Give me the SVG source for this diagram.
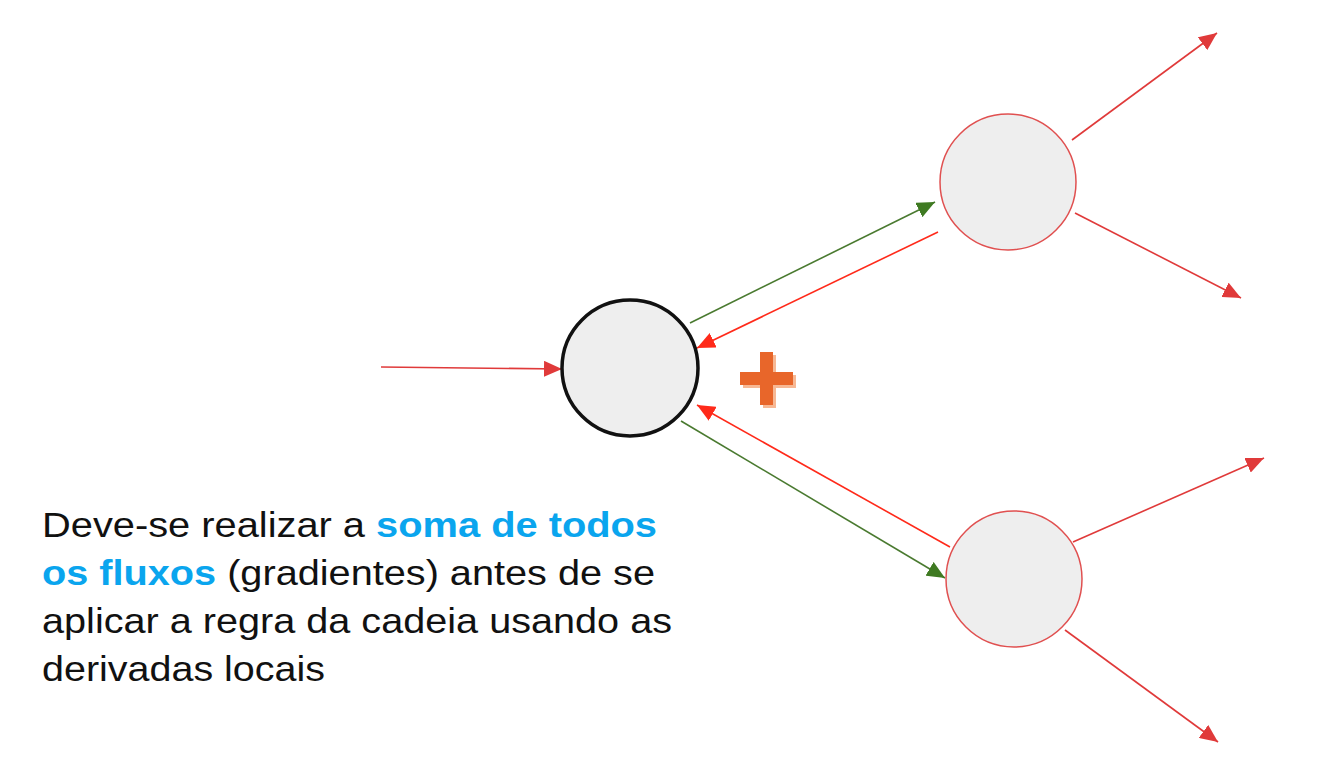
<svg xmlns="http://www.w3.org/2000/svg" width="1336" height="778" viewBox="0 0 1336 778">
<style>
.node{fill:#eeeeee;}
.main{stroke:#111;stroke-width:3.5;}
.sub{stroke:#e05050;stroke-width:1.5;}
.r{stroke:#e03a3a;stroke-width:1.6;fill:none;}
.rb{stroke:#ff2a1a;stroke-width:1.6;fill:none;}
.g{stroke:#4a7a30;stroke-width:1.6;fill:none;}
.t{font-family:"Liberation Sans",Arial,sans-serif;font-size:35px;fill:#111;}
.hl{fill:#0aa5ee;font-weight:bold;}
</style>
<defs>
<marker id="ar" markerUnits="userSpaceOnUse" markerWidth="20" markerHeight="16" refX="18" refY="8" orient="auto"><path d="M0,0 L18,8 L0,16 Z" fill="#e03a3a"/></marker>
<marker id="arb" markerUnits="userSpaceOnUse" markerWidth="20" markerHeight="16" refX="18" refY="8" orient="auto"><path d="M0,0 L18,8 L0,16 Z" fill="#ff2a1a"/></marker>
<marker id="ag" markerUnits="userSpaceOnUse" markerWidth="20" markerHeight="16" refX="18" refY="8" orient="auto"><path d="M0,0 L18,8 L0,16 Z" fill="#3f7a22"/></marker>
</defs>
<rect width="1336" height="778" fill="#ffffff"/>
<g id="connectors">
<line class="r" x1="381" y1="367" x2="562" y2="369" marker-end="url(#ar)"/>
<line class="g" x1="690" y1="323" x2="935" y2="202" marker-end="url(#ag)"/>
<line class="rb" x1="938" y1="232" x2="697" y2="348" marker-end="url(#arb)"/>
<line class="rb" x1="950" y1="547" x2="697" y2="405" marker-end="url(#arb)"/>
<line class="g" x1="681" y1="421" x2="945" y2="578" marker-end="url(#ag)"/>
<line class="r" x1="1072" y1="140" x2="1217" y2="33" marker-end="url(#ar)"/>
<line class="r" x1="1075" y1="213" x2="1241" y2="298" marker-end="url(#ar)"/>
<line class="r" x1="1073" y1="542" x2="1264" y2="458" marker-end="url(#ar)"/>
<line class="r" x1="1065" y1="630" x2="1218" y2="742" marker-end="url(#ar)"/>
</g>
<g id="node-center"><circle class="node main" cx="630" cy="368" r="68"/></g>
<g id="node-top"><circle class="node sub" cx="1008" cy="182" r="68"/></g>
<g id="node-bottom"><circle class="node sub" cx="1014" cy="579" r="68"/></g>
<g id="plus">
<path d="M763,355 h13 v20 h20 v13 h-20 v20 h-13 v-20 h-20 v-13 h20 Z" fill="#f7b894"/>
<path d="M760,352 h13 v20 h20 v13 h-20 v20 h-13 v-20 h-20 v-13 h20 Z" fill="#e8662a"/>
</g>
<g id="caption">
<text class="t" x="42" y="537" textLength="615" lengthAdjust="spacingAndGlyphs">Deve-se realizar a <tspan class="hl">soma de todos</tspan></text>
<text class="t" x="42" y="585" textLength="613" lengthAdjust="spacingAndGlyphs"><tspan class="hl">os fluxos</tspan> (gradientes) antes de se</text>
<text class="t" x="42" y="633" textLength="630" lengthAdjust="spacingAndGlyphs">aplicar a regra da cadeia usando as</text>
<text class="t" x="42" y="681" textLength="283" lengthAdjust="spacingAndGlyphs">derivadas locais</text>
</g>
</svg>
